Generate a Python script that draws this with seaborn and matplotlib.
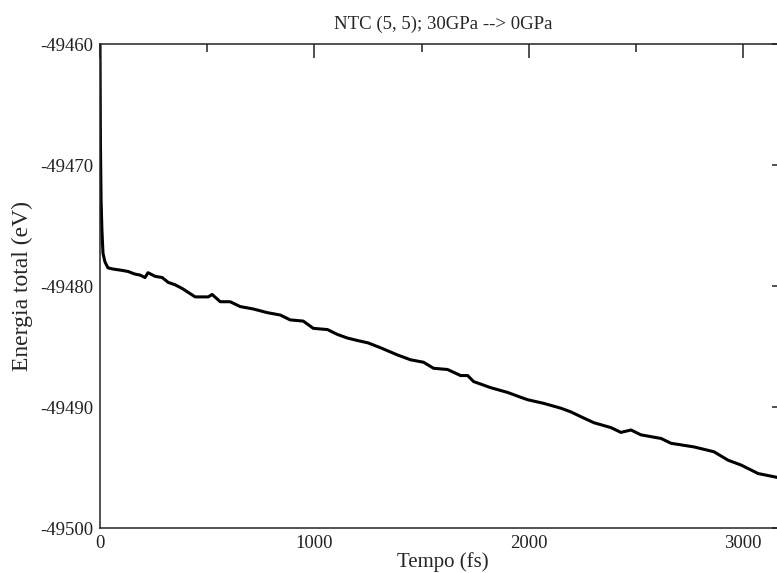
import pandas as pd
import matplotlib.pyplot as plt
import seaborn as sns
from matplotlib.ticker import MultipleLocator

# 时间 (fs) 与总能量 (eV)
tempo = [0, 2, 5, 9, 14, 23, 37, 61, 100, 131, 160, 187, 210, 224, 257, 290, 318,
         350, 383, 444, 505, 523, 561, 607, 654, 715, 780, 841, 887, 948, 995,
         1061, 1107, 1154, 1200, 1250, 1308, 1388, 1449, 1509, 1556, 1621, 1682,
         1715, 1743, 1822, 1902, 1963, 1995, 2070, 2150, 2196, 2243, 2304, 2383,
         2430, 2477, 2523, 2617, 2664, 2771, 2864, 2930, 2991, 3070, 3154, 3200]
energia = [-49460.0, -49468.2, -49472.9, -49475.4, -49477.3, -49478.0, -49478.5,
           -49478.6, -49478.7, -49478.8, -49479.0, -49479.1, -49479.3, -49478.9,
           -49479.2, -49479.3, -49479.7, -49479.9, -49480.2, -49480.9, -49480.9,
           -49480.7, -49481.3, -49481.3, -49481.7, -49481.9, -49482.2, -49482.4,
           -49482.8, -49482.9, -49483.5, -49483.6, -49484.0, -49484.3, -49484.5,
           -49484.7, -49485.1, -49485.7, -49486.1, -49486.3, -49486.8, -49486.9,
           -49487.4, -49487.4, -49487.9, -49488.4, -49488.8, -49489.2, -49489.4,
           -49489.7, -49490.1, -49490.4, -49490.8, -49491.3, -49491.7, -49492.1,
           -49491.9, -49492.3, -49492.6, -49493.0, -49493.3, -49493.7, -49494.4,
           -49494.8, -49495.5, -49495.8, -49496.0]

titulo = "NTC (5, 5); 30GPa --> 0GPa"
xticks = [0, 1000, 2000, 3000]
yticks = [-49500, -49490, -49480, -49470, -49460]

sns.set_style("white")
plt.rcParams["font.family"] = ["Liberation Serif", "DejaVu Serif"]
plt.rcParams["axes.unicode_minus"] = False

df = pd.DataFrame({"tempo": tempo, "energia": energia})

fig = plt.figure(figsize=(7.77, 5.73), dpi=100)
# o eixo direito fica fora da figura (imagem original cortada)
ax = fig.add_axes([100 / 777, 45 / 573, 686 / 777, 484 / 573])

sns.lineplot(data=df, x="tempo", y="energia", ax=ax, color="black",
             linewidth=2.2, sort=False, estimator=None)

ax.set_xlim(0, 3200)
ax.set_ylim(-49500, -49460)
ax.set_xticks(xticks)
ax.set_yticks(yticks)
ax.xaxis.set_minor_locator(MultipleLocator(500))
ax.yaxis.set_minor_locator(MultipleLocator(5))
ax.tick_params(which="both", direction="in", top=True, right=True,
               labelsize=13.5, colors="#222222", width=1.1)
ax.tick_params(which="major", length=10, pad=5)
ax.tick_params(which="minor", length=5.5)
for s in ax.spines.values():
    s.set_color("#222222")
    s.set_linewidth(1.1)

ax.set_title(titulo, fontsize=13.5, pad=11)
ax.set_xlabel("Tempo (fs)", fontsize=15, labelpad=0)
ax.set_ylabel("Energia total (eV)", fontsize=17, labelpad=5)

fig.savefig("out.png", dpi=100)
